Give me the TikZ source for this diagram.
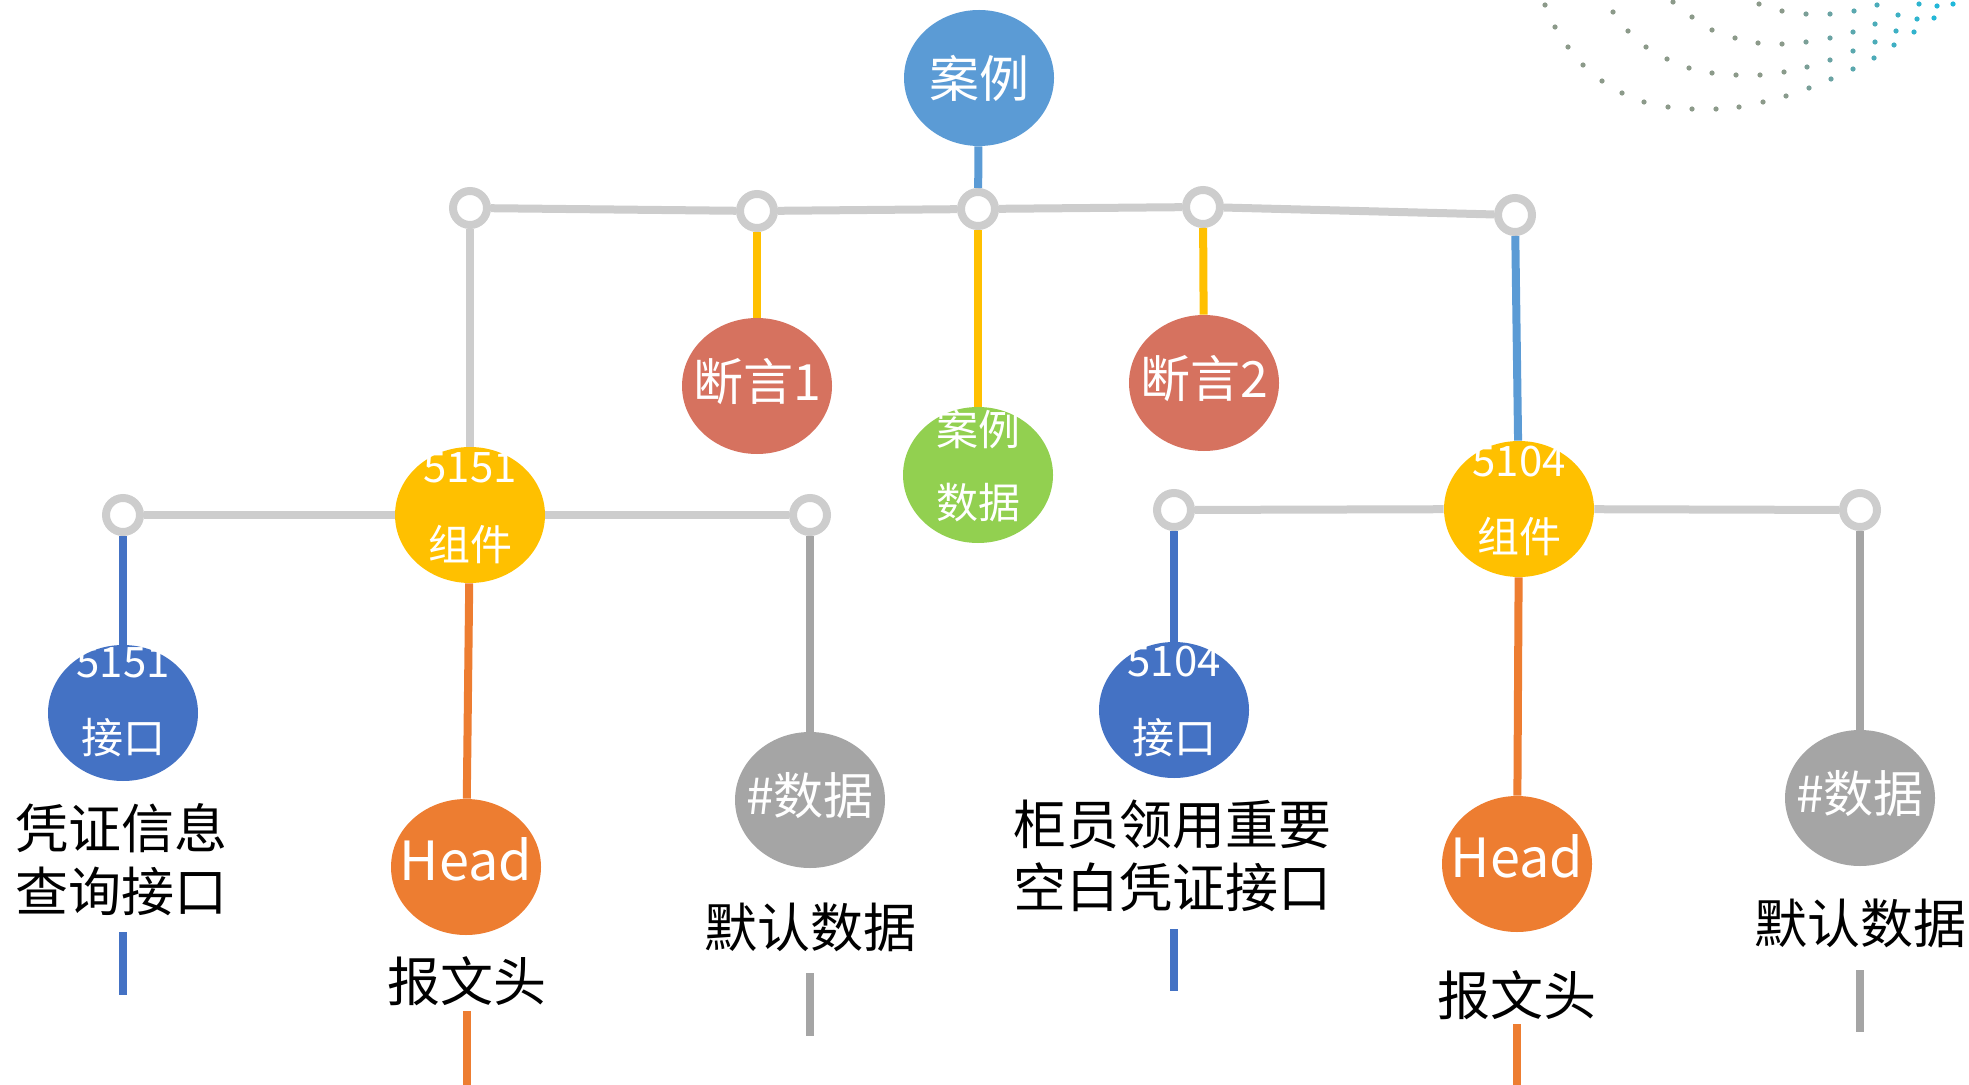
\documentclass[tikz,border=0pt]{standalone}
\usepackage{fontspec}
\setmainfont{Noto Sans CJK SC}
\usetikzlibrary{shapes.geometric}

\definecolor{casec}{HTML}{5B9BD5}
\definecolor{assertc}{HTML}{D6725F}
\definecolor{datac}{HTML}{92D050}
\definecolor{compc}{HTML}{FFC000}
\definecolor{ifc}{HTML}{4472C4}
\definecolor{headc}{HTML}{ED7D31}
\definecolor{defc}{HTML}{A5A5A5}
\definecolor{barc}{HTML}{CDCDCD}
\definecolor{dotgray}{HTML}{8C9A8A}
\definecolor{dotcyan}{HTML}{20B8DA}

\begin{document}
\begin{tikzpicture}[x=0.5pt, y=-0.5pt,
  bubble/.style={ellipse, fill=#1, minimum width=75pt, minimum height=68pt, inner sep=0pt},
  ring/.style={circle, draw=barc, fill=white, line width=4pt,
    minimum size=17pt, inner sep=0pt},
  bar/.style={line width=4pt, draw=#1},
  word/.style={text=white, inner sep=0pt, font=\fontsize{25}{30}\selectfont},
  inner/.style={text=white, inner sep=0pt, font=\fontsize{21}{25}\selectfont},
  caption/.style={align=center, inner sep=0pt, font=\fontsize{26.5}{31.5}\selectfont},
]
  \useasboundingbox (0,0) rectangle (1969,1085);

  % dotted arcs, top right corner
  \foreach \x/\y in {1545/5, 1555/27, 1568/47, 1583/65, 1602/81, 1622/93, 1644/102,
      1668/107, 1692/109, 1716/109, 1739/107, 1763/102, 1786/96, 1809/88, 1831/79,
      1853/69, 1874/58, 1894/45, 1914/32, 1934/18, 1953/4,
      1613/12, 1628/31, 1646/47, 1667/59, 1689/68, 1712/73, 1736/75, 1760/75,
      1784/72, 1807/67, 1830/60, 1853/51, 1875/42, 1896/31, 1917/19, 1937/6,
      1673/2, 1692/17, 1712/30, 1735/38, 1758/43, 1782/44, 1806/42, 1830/38,
      1853/32, 1875/24, 1898/15, 1919/4,
      1759/4, 1782/11, 1806/14, 1830/14, 1854/11, 1877/5} {
    \pgfmathtruncatemacro\p{max(0,min(100,(\x-1780)/1.6))}
    \fill[dotcyan!\p!dotgray] (\x,\y) circle (1.3pt);
  }

  % root and top rail
  \node[bubble=casec] (case) at (979,78) {};
  \node[word] (case-t) at (case) {案例};
  \node[ring] (j1) at (470,208) {};
  \node[ring] (j2) at (757,211) {};
  \node[ring] (j3) at (978,209) {};
  \node[ring] (j4) at (1203,207) {};
  \node[ring] (j5) at (1515,215) {};
  \draw[bar=barc] (j1) -- (j2) -- (j3) -- (j4) -- (j5);
  \draw[bar=casec] (case) -- (j3);

  % second level
  \node[bubble=assertc] (as1) at (757,386) {};
  \node[word] (as1-t) at ([yshift=2pt]as1.center) {断言1};
  \node[bubble=datac] (cdata) at (978,475) {};
  \node[inner] (cdata-a) at ([yshift=23pt]cdata.center) {案例};
  \node[inner] (cdata-b) at ([yshift=-14pt]cdata.center) {数据};
  \node[bubble=assertc] (as2) at (1204,383) {};
  \node[word] (as2-t) at ([yshift=2pt]as2.center) {断言2};
  \node[bubble=compc] (c5151) at (470,515) {};
  \node[inner] (c5151-a) at ([yshift=23.5pt]c5151.center) {5151};
  \node[inner] (c5151-b) at ([yshift=-15pt]c5151.center) {组件};
  \node[bubble=compc] (c5104) at (1519,509) {};
  \node[inner] (c5104-a) at ([yshift=23.5pt]c5104.center) {5104};
  \node[inner] (c5104-b) at ([yshift=-14pt]c5104.center) {组件};
  \draw[bar=compc] (j2) -- (as1);
  \draw[bar=compc] (j3) -- (cdata);
  \draw[bar=compc] (j4) -- (as2);
  \draw[bar=barc] (j1) -- (c5151);
  \draw[bar=casec] (j5) -- (c5104);

  % side rails
  \node[ring] (s1) at (123,515) {};
  \node[ring] (s2) at (810,515) {};
  \node[ring] (s3) at (1174,510) {};
  \node[ring] (s4) at (1860,510) {};
  \draw[bar=barc] (s1) -- (c5151) -- (s2);
  \draw[bar=barc] (s3) -- (c5104) -- (s4);

  % third level
  \node[bubble=ifc] (if5151) at (123,713) {};
  \node[inner] (if5151-a) at ([yshift=25pt]if5151.center) {5151};
  \node[inner] (if5151-b) at ([yshift=-12.5pt]if5151.center) {接口};
  \node[bubble=headc] (head1) at (466,867) {};
  \node[word, font=\fontsize{27}{32}\selectfont] (head1-t) at ([yshift=4pt]head1.center) {Head};
  \node[bubble=defc] (def1) at (810,800) {};
  \node[word] (def1-t) at ([yshift=2pt]def1.center) {\#数据};
  \node[bubble=ifc] (if5104) at (1174,710) {};
  \node[inner] (if5104-a) at ([yshift=24pt]if5104.center) {5104};
  \node[inner] (if5104-b) at ([yshift=-14pt]if5104.center) {接口};
  \node[bubble=headc] (head2) at (1517,864) {};
  \node[word, font=\fontsize{27}{32}\selectfont] (head2-t) at ([yshift=4pt]head2.center) {Head};
  \node[bubble=defc] (def2) at (1860,798) {};
  \node[word] (def2-t) at ([yshift=2pt]def2.center) {\#数据};
  \draw[bar=ifc] (s1) -- (if5151);
  \draw[bar=headc] (c5151) -- (head1);
  \draw[bar=defc] (s2) -- (def1);
  \draw[bar=ifc] (s3) -- (if5104);
  \draw[bar=headc] (c5104) -- (head2);
  \draw[bar=defc] (s4) -- (def2);

  % captions
  \node[caption] (t1) at (121,860) {凭证信息\\查询接口};
  \node[caption] (t2) at (467,981) {报文头};
  \node[caption] (t3) at (810,927) {默认数据};
  \node[caption] (t4) at (1172,856) {柜员领用重要\\空白凭证接口};
  \node[caption] (t5) at (1517,995) {报文头};
  \node[caption] (t6) at (1860,923) {默认数据};

  % short tails under the captions
  \coordinate (e1a) at (123,932);  \coordinate (e1b) at (123,995);
  \coordinate (e2a) at (467,1011); \coordinate (e2b) at (467,1085);
  \coordinate (e3a) at (810,973);  \coordinate (e3b) at (810,1036);
  \coordinate (e4a) at (1174,929); \coordinate (e4b) at (1174,991);
  \coordinate (e5a) at (1517,1024); \coordinate (e5b) at (1517,1085);
  \coordinate (e6a) at (1860,970); \coordinate (e6b) at (1860,1032);
  \draw[bar=ifc] (e1a) -- (e1b);
  \draw[bar=headc] (e2a) -- (e2b);
  \draw[bar=defc] (e3a) -- (e3b);
  \draw[bar=ifc] (e4a) -- (e4b);
  \draw[bar=headc] (e5a) -- (e5b);
  \draw[bar=defc] (e6a) -- (e6b);
\end{tikzpicture}
\end{document}
